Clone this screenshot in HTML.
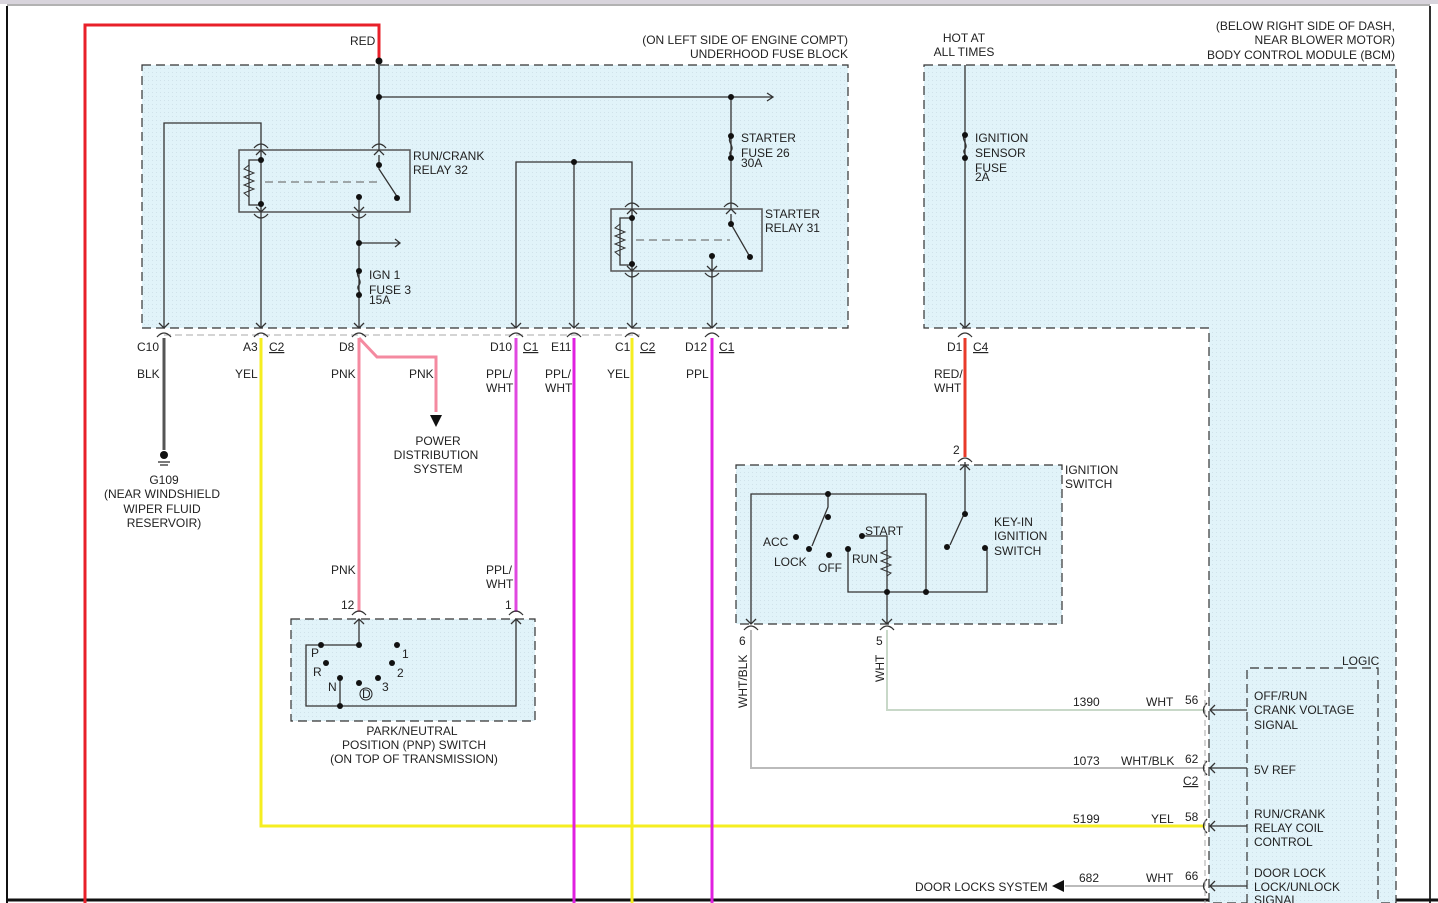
<!DOCTYPE html>
<html><head><meta charset="utf-8"><style>
html,body{margin:0;padding:0;background:#fff;}
svg{display:block;}
text{font-family:"Liberation Sans",Arial,sans-serif;font-size:12px;fill:#222;}
</style></head><body>
<svg width="1438" height="903" viewBox="0 0 1438 903" xmlns="http://www.w3.org/2000/svg">
<defs>
<pattern id="dots" width="4" height="4" patternUnits="userSpaceOnUse"><rect width="4" height="4" fill="#e1f3f9"/><rect width="1" height="1" fill="#d0e2ea"/></pattern>
</defs>
<!-- page frame -->
<rect x="0" y="0" width="1438" height="4" fill="#d8d4dc"/>
<line x1="7" y1="6" x2="7" y2="903" stroke="#111" stroke-width="2"/>
<line x1="7" y1="5" x2="1430" y2="5" stroke="#999" stroke-width="1.5"/>
<line x1="1430" y1="6" x2="1430" y2="903" stroke="#333" stroke-width="2"/>
<line x1="7" y1="900" x2="1438" y2="900" stroke="#111" stroke-width="3"/>

<!-- BCM box -->
<path d="M924 65 H1396 V903 H1209 V328 H924 Z" fill="url(#dots)" stroke="#333" stroke-dasharray="9,5" stroke-width="1.2"/>
<!-- Fuse block -->
<rect x="142" y="65" width="706" height="263" fill="url(#dots)" stroke="#333" stroke-dasharray="9,5" stroke-width="1.2"/>
<!-- Ignition switch box -->
<rect x="736" y="465" width="326" height="159" fill="url(#dots)" stroke="#333" stroke-dasharray="9,5" stroke-width="1.2"/>
<!-- PNP box -->
<rect x="291" y="619" width="244" height="102" fill="url(#dots)" stroke="#333" stroke-dasharray="9,5" stroke-width="1.2"/>
<!-- Logic box -->
<path d="M1247 903 V668 H1378 V903" fill="url(#dots)" stroke="#333" stroke-dasharray="9,5" stroke-width="1.2"/>

<!-- connector row gray dashed -->
<line x1="164" y1="335" x2="640" y2="335" stroke="#aaa" stroke-dasharray="7,4"/>

<!-- colored wires -->
<g fill="none" stroke-width="3">
<path d="M85 903 V25 H379 V61" stroke="#e8202a"/>
<line x1="164" y1="338" x2="164" y2="450" stroke="#555"/>
<path d="M261 338 V826 H1205" stroke="#f5ee20"/>
<line x1="359" y1="338" x2="359" y2="612" stroke="#f48aa0"/>
<path d="M359 338 L377 357 H436 V412" stroke="#f48aa0"/>
<line x1="516" y1="338" x2="516" y2="612" stroke="#e048e0"/>
<line x1="574" y1="338" x2="574" y2="903" stroke="#e020e0"/>
<line x1="632" y1="338" x2="632" y2="903" stroke="#f5ee20"/>
<line x1="712" y1="338" x2="712" y2="903" stroke="#e020e0"/>
<line x1="965" y1="338" x2="965" y2="457" stroke="#e83a2a"/>
</g>
<g fill="none" stroke-width="2">
<path d="M751 630 V768 H1205" stroke="#bbb"/>
<path d="M887 630 V710 H1205" stroke="#c8d8c8"/>
<line x1="1065" y1="886" x2="1205" y2="886" stroke="#bbb"/>
</g>
<polygon points="1052,886 1064,880 1064,892" fill="#111"/>
<polygon points="430,415 442,415 436,427" fill="#111"/>

<!-- black internal wiring -->
<g fill="none" stroke="#333" stroke-width="1.3">
<line x1="379" y1="61" x2="379" y2="150"/>
<line x1="379" y1="97" x2="772" y2="97"/>
<path d="M164 328 V123 H261 V150"/>
<line x1="261" y1="212" x2="261" y2="328"/>
<line x1="359" y1="196" x2="359" y2="328"/>
<line x1="359" y1="243" x2="400" y2="243"/>
<line x1="731" y1="97" x2="731" y2="209"/>
<path d="M516 328 V162 H632 V209"/>
<line x1="574" y1="162" x2="574" y2="328"/>
<line x1="632" y1="271" x2="632" y2="328"/>
<line x1="712" y1="255" x2="712" y2="328"/>
<line x1="965" y1="65" x2="965" y2="328"/>
<rect x="239" y="150" width="171" height="62" stroke="#555" stroke-width="1.5"/>
<rect x="611" y="209" width="151" height="62" stroke="#555" stroke-width="1.5"/>
<path d="M261 150 V212"/>
<path d="M261 160 H249 V205 H261" />
<path d="M249 165 l-5 4 l10 4 l-10 4 l10 4 l-10 4 l10 4 l-10 4 l5 4" stroke-width="1"/>
<line x1="265" y1="182" x2="378" y2="182" stroke-dasharray="8,5" stroke="#777"/>
<path d="M379 155 V169 L398 198"/>
<path d="M632 209 V271"/>
<path d="M632 218 H620 V265 H632"/>
<path d="M620 224 l-5 4 l10 4 l-10 4 l10 4 l-10 4 l10 4 l-10 4 l5 4" stroke-width="1"/>
<line x1="636" y1="240" x2="730" y2="240" stroke-dasharray="8,5" stroke="#777"/>
<path d="M731 214 V224 L750 257"/>
<path d="M359 271 c-5 4 4 9 0 14 c-4 4 4 8 0 10"/>
<path d="M731 137 c-5 4 4 9 0 14 c-4 4 4 7 0 9"/>
<path d="M965 135 c-5 4 4 9 0 14 c-4 4 4 7 0 9"/>
<path d="M751 624 V494 H926 V592"/>
<path d="M828 494 V507 L812 546"/>
<path d="M862 536 H887 V592 M848 549 V592 H987 V548"/>
<path d="M887 550 l-6 3 l10 4 l-10 4 l10 4 l-10 4 l10 4 l-4 3" stroke-width="1"/>
<path d="M887 592 V624"/>
<path d="M965 462 V512 L950 545"/>
<path d="M359 619 V645 H323"/>
<path d="M340 678 V706 H306 V645 H318"/>
<path d="M340 706 H516 V619"/>
<line x1="1210" y1="710" x2="1247" y2="710"/>
<line x1="1210" y1="768" x2="1247" y2="768"/>
<line x1="1210" y1="826" x2="1247" y2="826"/>
<line x1="1210" y1="886" x2="1247" y2="886"/>
<line x1="158" y1="462" x2="170" y2="462"/><line x1="160" y1="465" x2="168" y2="465"/>
<path d="M159 323 l5 5 l5 -5 M256 323 l5 5 l5 -5 M354 323 l5 5 l5 -5 M511 323 l5 5 l5 -5 M569 323 l5 5 l5 -5 M627 323 l5 5 l5 -5 M707 323 l5 5 l5 -5 M960 323 l5 5 l5 -5"/>
<path d="M256 155 l5 -5 l5 5 M374 155 l5 -5 l5 5 M256 207 l5 5 l5 -5 M354 207 l5 5 l5 -5 M627 214 l5 -5 l5 5 M726 214 l5 -5 l5 5 M627 266 l5 5 l5 -5 M707 266 l5 5 l5 -5"/>
<path d="M746 619 l5 5 l5 -5 M882 619 l5 5 l5 -5 M960 470 l5 -5 l5 5 M354 624 l5 -5 l5 5 M511 624 l5 -5 l5 5"/>
<path d="M1215 705 l-5 5 l5 5 M1215 763 l-5 5 l5 5 M1215 821 l-5 5 l5 5 M1215 881 l-5 5 l5 5"/>
<path d="M395 239 l5 4 l-5 4 M767 93 l6 4 l-6 4"/>
<path d="M157 337 q7 -8 14 0 M254 337 q7 -8 14 0 M352 337 q7 -8 14 0 M509 337 q7 -8 14 0 M567 337 q7 -8 14 0 M625 337 q7 -8 14 0 M705 337 q7 -8 14 0 M958 337 q7 -8 14 0"/>
<path d="M254 148 q7 -8 14 0 M372 148 q7 -8 14 0 M254 214 q7 8 14 0 M352 214 q7 8 14 0 M625 207 q7 -8 14 0 M724 207 q7 -8 14 0 M625 273 q7 8 14 0 M705 273 q7 8 14 0"/>
<path d="M958 462 q7 -8 14 0 M744 630 q7 -8 14 0 M880 630 q7 -8 14 0 M352 615 q7 -8 14 0 M509 615 q7 -8 14 0"/>
<path d="M1207 703 q-7 7 0 14 M1207 761 q-7 7 0 14 M1207 819 q-7 7 0 14 M1207 879 q-7 7 0 14"/>
</g>
<line x1="1205" y1="690" x2="1205" y2="903" stroke="#aaa" stroke-dasharray="6,4"/>
<circle cx="164" cy="455" r="4" fill="#111"/>
<g fill="#111">
<circle cx="379" cy="61" r="3.5"/><circle cx="379" cy="97" r="3"/><circle cx="731" cy="97" r="3"/>
<circle cx="574" cy="162" r="3"/><circle cx="359" cy="243" r="3"/>
<circle cx="261" cy="160" r="3"/><circle cx="261" cy="204" r="3"/><circle cx="379" cy="165" r="3"/><circle cx="397" cy="198" r="3"/><circle cx="359" cy="197" r="3"/>
<circle cx="632" cy="218" r="3"/><circle cx="632" cy="264" r="3"/><circle cx="731" cy="224" r="3"/><circle cx="750" cy="257" r="3"/><circle cx="712" cy="256" r="3"/>
<circle cx="359" cy="271" r="3"/><circle cx="359" cy="295" r="3"/><circle cx="731" cy="136" r="3"/><circle cx="731" cy="158" r="3"/><circle cx="965" cy="135" r="3"/><circle cx="965" cy="158" r="3"/>
<circle cx="828" cy="494" r="3"/><circle cx="828" cy="517" r="3"/><circle cx="809" cy="549" r="3"/><circle cx="796" cy="537" r="3"/><circle cx="829" cy="555" r="3"/>
<circle cx="862" cy="536" r="3"/><circle cx="848" cy="549" r="3"/><circle cx="887" cy="592" r="3"/><circle cx="926" cy="592" r="3"/>
<circle cx="965" cy="514" r="3"/><circle cx="947" cy="547" r="3"/><circle cx="985" cy="548" r="3"/>
<circle cx="359" cy="645" r="3"/><circle cx="321" cy="645" r="3"/><circle cx="326" cy="663" r="3"/><circle cx="340" cy="678" r="3"/><circle cx="340" cy="706" r="3"/><circle cx="359" cy="683" r="3"/><circle cx="378" cy="678" r="3"/><circle cx="392" cy="663" r="3"/><circle cx="397" cy="645" r="3"/>
</g>
<circle cx="366" cy="694" r="6" fill="none" stroke="#222"/>

<text x="350" y="45">RED</text>
<text x="848" y="44" text-anchor="end">(ON LEFT SIDE OF ENGINE COMPT)</text>
<text x="848" y="58" text-anchor="end">UNDERHOOD FUSE BLOCK</text>
<text x="964" y="42" text-anchor="middle">HOT AT</text>
<text x="964" y="56" text-anchor="middle">ALL TIMES</text>
<text x="1395" y="30" text-anchor="end">(BELOW RIGHT SIDE OF DASH,</text>
<text x="1395" y="44" text-anchor="end">NEAR BLOWER MOTOR)</text>
<text x="1395" y="59" text-anchor="end">BODY CONTROL MODULE (BCM)</text>
<text x="413" y="160">RUN/CRANK</text><text x="413" y="174">RELAY 32</text>
<text x="741" y="142">STARTER</text><text x="741" y="157">FUSE 26</text><text x="741" y="167">30A</text>
<text x="765" y="218">STARTER</text><text x="765" y="232">RELAY 31</text>
<text x="369" y="279">IGN 1</text><text x="369" y="294">FUSE 3</text><text x="369" y="304">15A</text>
<text x="975" y="142">IGNITION</text><text x="975" y="157">SENSOR</text><text x="975" y="172">FUSE</text><text x="975" y="181">2A</text>
<text x="137" y="351">C10</text><text x="243" y="351">A3</text><text x="269" y="351" text-decoration="underline">C2</text>
<text x="339" y="351">D8</text><text x="490" y="351">D10</text><text x="523" y="351" text-decoration="underline">C1</text>
<text x="551" y="351">E11</text><text x="615" y="351">C1</text><text x="640" y="351" text-decoration="underline">C2</text>
<text x="685" y="351">D12</text><text x="719" y="351" text-decoration="underline">C1</text>
<text x="947" y="351">D1</text><text x="973" y="351" text-decoration="underline">C4</text>
<text x="137" y="378">BLK</text><text x="235" y="378">YEL</text><text x="331" y="378">PNK</text><text x="409" y="378">PNK</text>
<text x="486" y="378">PPL/</text><text x="486" y="392">WHT</text><text x="545" y="378">PPL/</text><text x="545" y="392">WHT</text>
<text x="607" y="378">YEL</text><text x="686" y="378">PPL</text>
<text x="934" y="378">RED/</text><text x="934" y="392">WHT</text>
<text x="438" y="445" text-anchor="middle">POWER</text><text x="436" y="459" text-anchor="middle">DISTRIBUTION</text><text x="438" y="473" text-anchor="middle">SYSTEM</text>
<text x="164" y="484" text-anchor="middle">G109</text><text x="162" y="498" text-anchor="middle">(NEAR WINDSHIELD</text><text x="162" y="513" text-anchor="middle">WIPER FLUID</text><text x="164" y="527" text-anchor="middle">RESERVOIR)</text>
<text x="331" y="574">PNK</text><text x="486" y="574">PPL/</text><text x="486" y="588">WHT</text>
<text x="341" y="609">12</text><text x="505" y="609">1</text>
<text x="311" y="657">P</text><text x="313" y="676">R</text><text x="328" y="691">N</text><text x="362" y="698" font-size="11">D</text>
<text x="402" y="658">1</text><text x="397" y="677">2</text><text x="382" y="691">3</text>
<text x="412" y="735" text-anchor="middle">PARK/NEUTRAL</text><text x="414" y="749" text-anchor="middle">POSITION (PNP) SWITCH</text><text x="414" y="763" text-anchor="middle">(ON TOP OF TRANSMISSION)</text>
<text x="953" y="454">2</text>
<text x="1065" y="474">IGNITION</text><text x="1065" y="488">SWITCH</text>
<text x="763" y="546">ACC</text><text x="774" y="566">LOCK</text><text x="818" y="572">OFF</text>
<text x="865" y="535">START</text><text x="852" y="563">RUN</text>
<text x="994" y="526">KEY-IN</text><text x="994" y="540">IGNITION</text><text x="994" y="555">SWITCH</text>
<text x="739" y="645">6</text><text x="876" y="645">5</text>
<text transform="translate(747,708) rotate(-90)">WHT/BLK</text>
<text transform="translate(884,682) rotate(-90)">WHT</text>
<text x="1342" y="665">LOGIC</text>
<text x="1073" y="706">1390</text><text x="1146" y="706">WHT</text><text x="1185" y="704">56</text>
<text x="1073" y="765">1073</text><text x="1121" y="765">WHT/BLK</text><text x="1185" y="763">62</text>
<text x="1183" y="785" text-decoration="underline">C2</text>
<text x="1073" y="823">5199</text><text x="1151" y="823">YEL</text><text x="1185" y="821">58</text>
<text x="1079" y="882">682</text><text x="1146" y="882">WHT</text><text x="1185" y="880">66</text>
<text x="915" y="891">DOOR LOCKS SYSTEM</text>
<text x="1254" y="700">OFF/RUN</text><text x="1254" y="714">CRANK VOLTAGE</text><text x="1254" y="729">SIGNAL</text>
<text x="1254" y="774">5V REF</text>
<text x="1254" y="818">RUN/CRANK</text><text x="1254" y="832">RELAY COIL</text><text x="1254" y="846">CONTROL</text>
<text x="1254" y="877">DOOR LOCK</text><text x="1254" y="891">LOCK/UNLOCK</text><text x="1254" y="904">SIGNAL</text>
</svg>
</body></html>
